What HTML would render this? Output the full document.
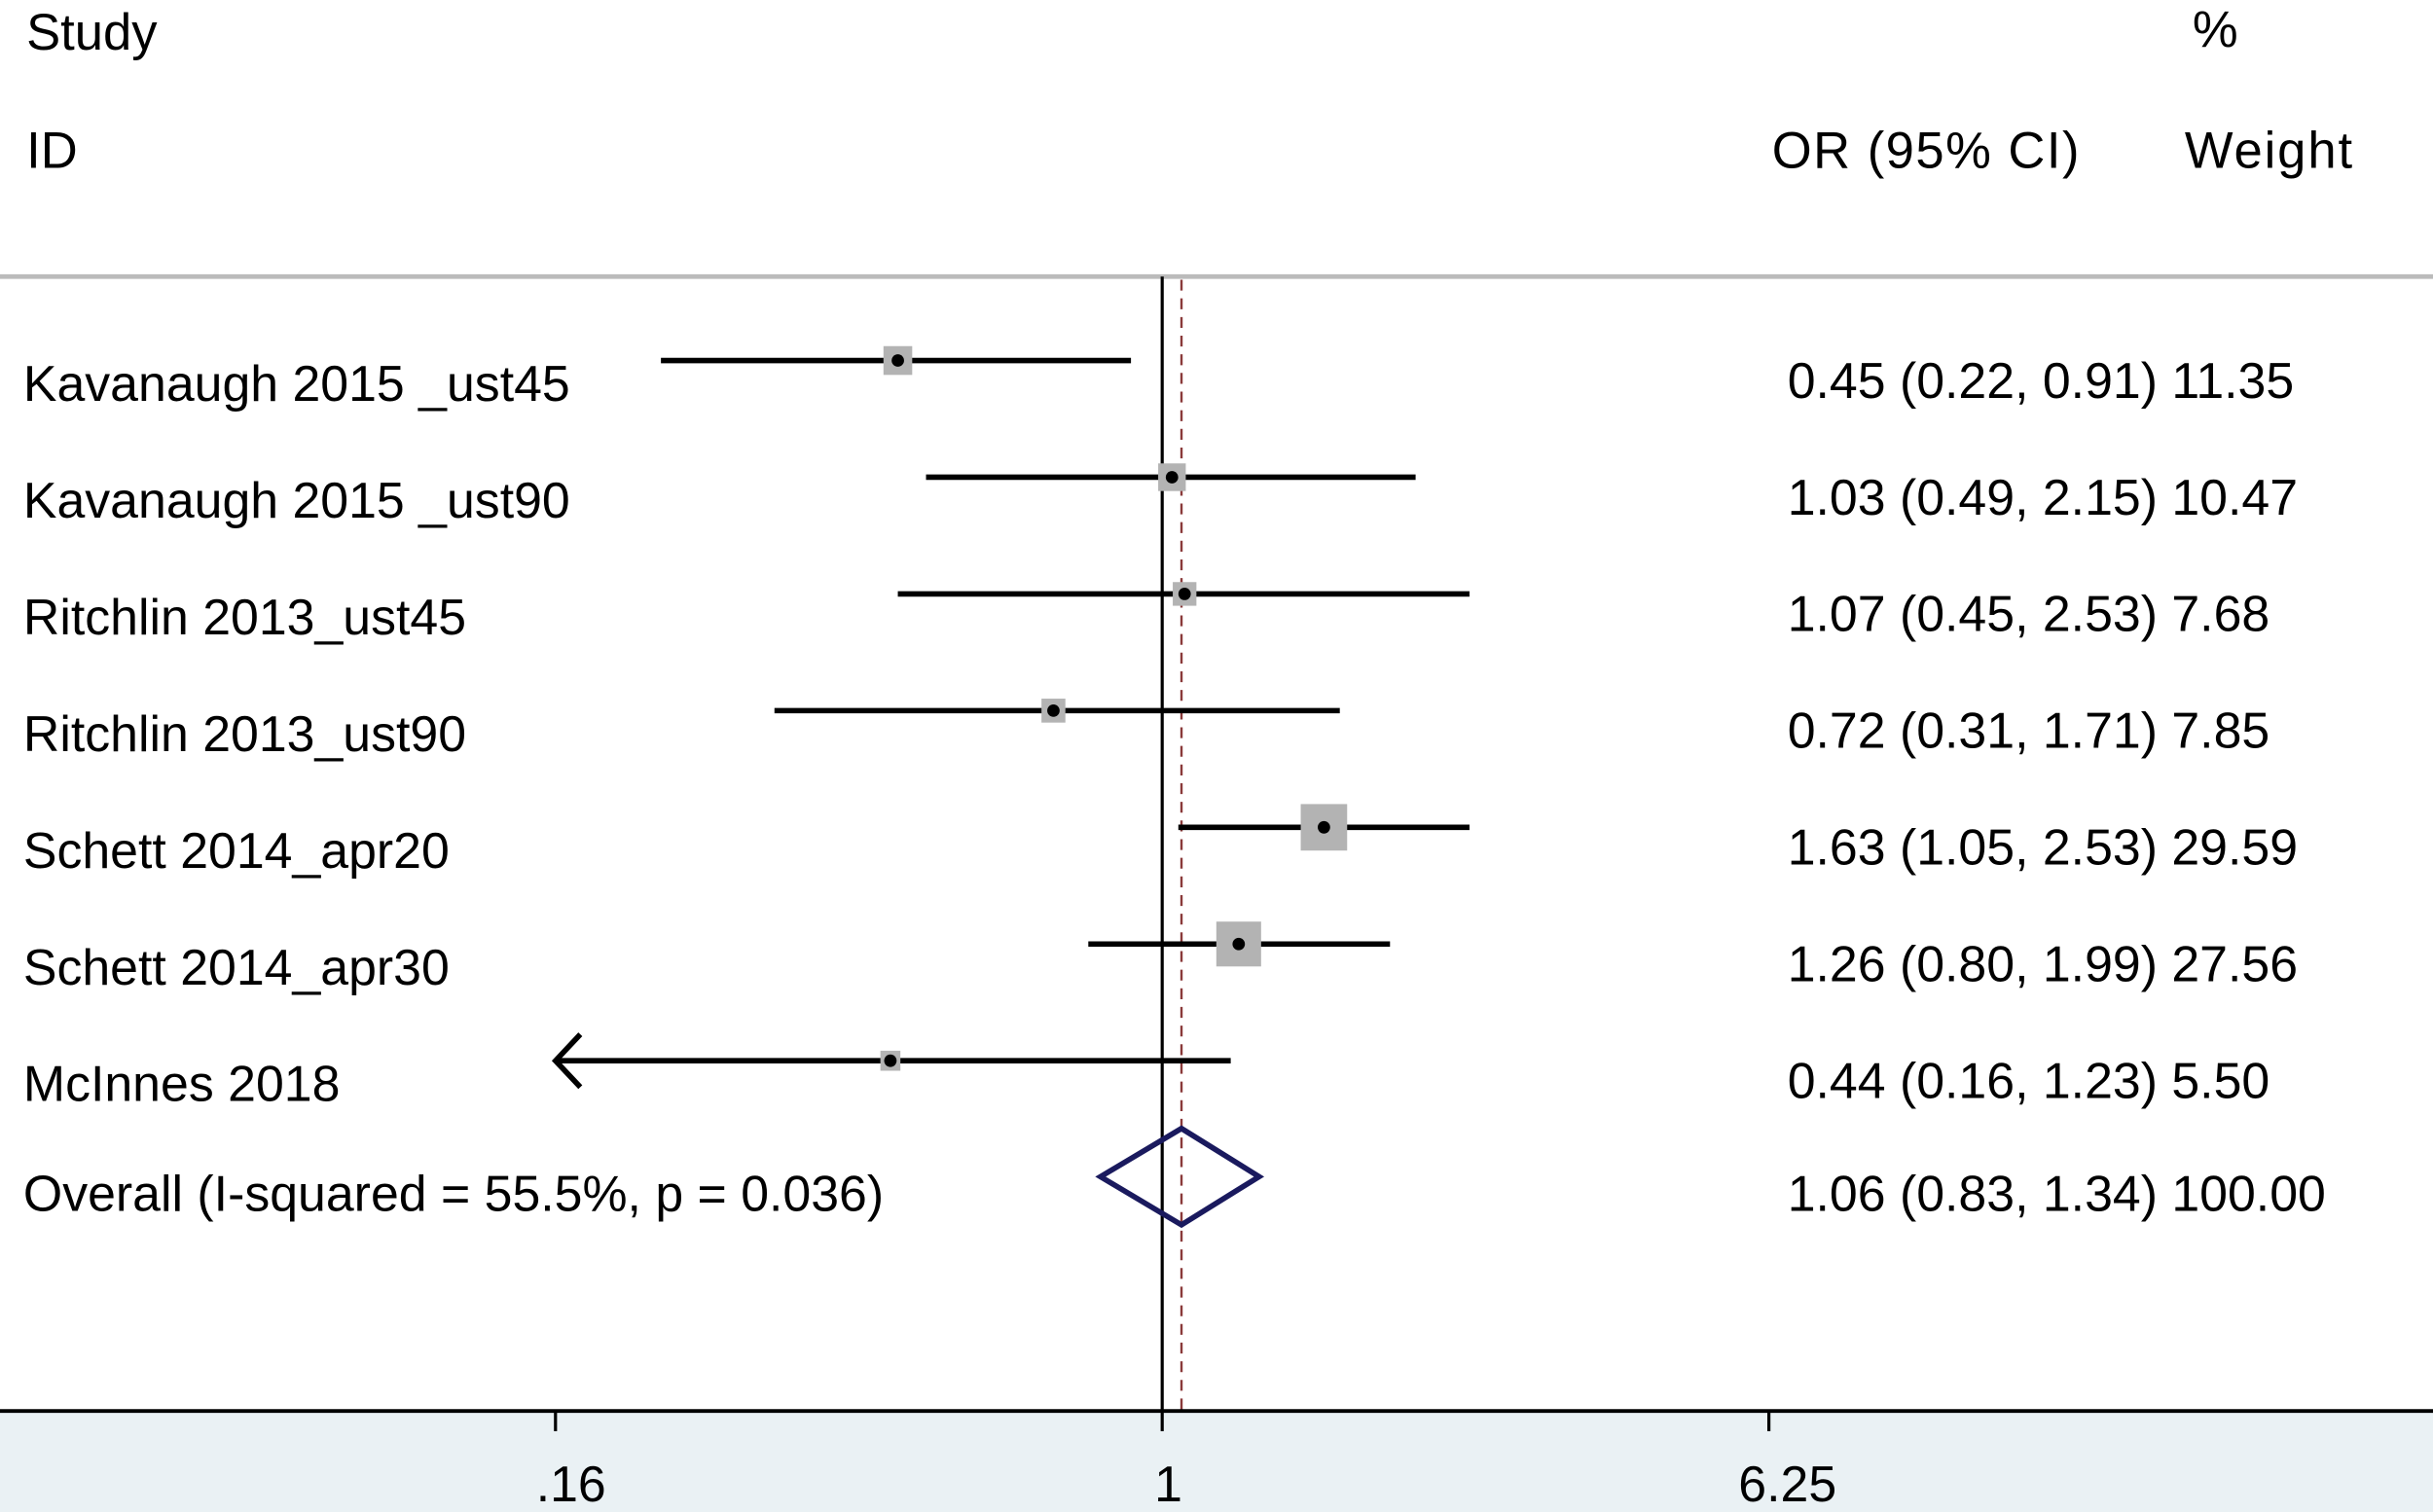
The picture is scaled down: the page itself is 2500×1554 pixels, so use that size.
<!DOCTYPE html>
<html><head><meta charset="utf-8"><style>
html,body{margin:0;padding:0;background:#fff;}
svg{display:block;font-family:"Liberation Sans",sans-serif;}
</style></head><body>
<svg id="chart" width="2500" height="1554" viewBox="0 0 1568 973" preserveAspectRatio="none" xmlns="http://www.w3.org/2000/svg">
<rect x="0" y="908" width="1568" height="65" fill="#eaf1f4"/>
<text x="17" y="32" font-size="33">Study</text>
<text x="17" y="108" font-size="33">ID</text>
<text x="1413" y="30" font-size="33">%</text>
<text x="1142" y="108" font-size="33" textLength="198">OR (95% CI)</text>
<text x="1408" y="108" font-size="33" textLength="108">Weight</text>
<line x1="0" y1="178" x2="1568" y2="178" stroke="#bbb" stroke-width="3"/>
<g id="marks"></g>
</svg>
<script>
const studies = ["Kavanaugh 2015 _ust45","Kavanaugh 2015 _ust90","Ritchlin 2013_ust45","Ritchlin 2013_ust90","Schett 2014_apr20","Schett 2014_apr30","McInnes 2018"];
const orVals = [0.45,1.03,1.07,0.72,1.63,1.26,0.44];
const loVals = [0.22,0.49,0.45,0.31,1.05,0.80,0.16];
const hiVals = [0.91,2.15,2.53,1.71,2.53,1.99,1.23];
const weights = [11.35,10.47,7.68,7.85,29.59,27.56,5.50];
const overall = [1.06,0.83,1.34];
const overallLabel = "Overall (I-squared = 55.5%, p = 0.036)";
const ticks = [0.16,1,6.25];
const tickLabels = [".16","1","6.25"];

const NS="http://www.w3.org/2000/svg";
const g=document.getElementById('marks');
const xMin=0.16, xMax=6.25, pxMin=358, pxMax=1140;
const FS=32.5;
function xs(v){return pxMin+(Math.log(v)-Math.log(xMin))/(Math.log(xMax)-Math.log(xMin))*(pxMax-pxMin);}
function ys(i){return 232+i*75.1;}
function mk(tag,attrs){const e=document.createElementNS(NS,tag);for(const k in attrs)e.setAttribute(k,attrs[k]);g.appendChild(e);return e;}
function f2(v){return v.toFixed(2);}
const axisY=908;
let e;
e=mk('line',{x1:xs(1),y1:178,x2:xs(1),y2:axisY,stroke:'#000','stroke-width':2});


e=mk('line',{x1:xs(overall[0]),y1:180,x2:xs(overall[0]),y2:axisY,stroke:'#8a3a3a','stroke-width':1.5,'stroke-dasharray':'7,5'});


studies.forEach((s,i)=>{
  const y=ys(i);
  const lo=Math.max(loVals[i],xMin);
  let el=mk('line',{x1:xs(lo),y1:y,x2:xs(hiVals[i]),y2:y,stroke:'#000','stroke-width':3.5});
  
  
  if(loVals[i]<=xMin){
    el=mk('polyline',{points:`${xs(xMin)+16},${y-17} ${xs(xMin)},${y} ${xs(xMin)+16},${y+17}`,fill:'none',stroke:'#000','stroke-width':3.5});
    
    
  }
  const side=5.5*Math.sqrt(weights[i]);
  el=mk('rect',{x:xs(orVals[i])-side/2,y:y-side/2,width:side,height:side,fill:'#b3b3b3'});
  
  
  el=mk('circle',{cx:xs(orVals[i]),cy:y,r:4,fill:'#000'});
  
  
  el=mk('text',{x:15,y:y+26,'font-size':FS});
  el.textContent=s;
  
  
  el=mk('text',{x:1152,y:y+24,'font-size':FS});
  el.textContent=`${f2(orVals[i])} (${f2(loVals[i])}, ${f2(hiVals[i])}) ${f2(weights[i])}`;
  
  
});
const oy=ys(studies.length)-0.5;
e=mk('polygon',{points:`${xs(overall[1])},${oy} ${xs(overall[0])},${oy-31} ${xs(overall[2])},${oy} ${xs(overall[0])},${oy+31}`,fill:'none',stroke:'#1a1a5e','stroke-width':3.5});


e=mk('text',{x:15,y:oy+22,'font-size':FS});
e.textContent=overallLabel;


e=mk('text',{x:1152,y:oy+22,'font-size':FS});
e.textContent=`${f2(overall[0])} (${f2(overall[1])}, ${f2(overall[2])}) 100.00`;


e=mk('line',{x1:0,y1:axisY,x2:1568,y2:axisY,stroke:'#000','stroke-width':2.5});


ticks.forEach((t,i)=>{
  let el=mk('line',{x1:xs(t),y1:axisY,x2:xs(t),y2:axisY+13,stroke:'#000','stroke-width':2});
  
  
  el=mk('text',{x:xs(t)+(i===0?10:(i===2?12:4)),y:966,'font-size':FS,'text-anchor':'middle'});
  el.textContent=tickLabels[i];
  
  
});
</script>
</body></html>
